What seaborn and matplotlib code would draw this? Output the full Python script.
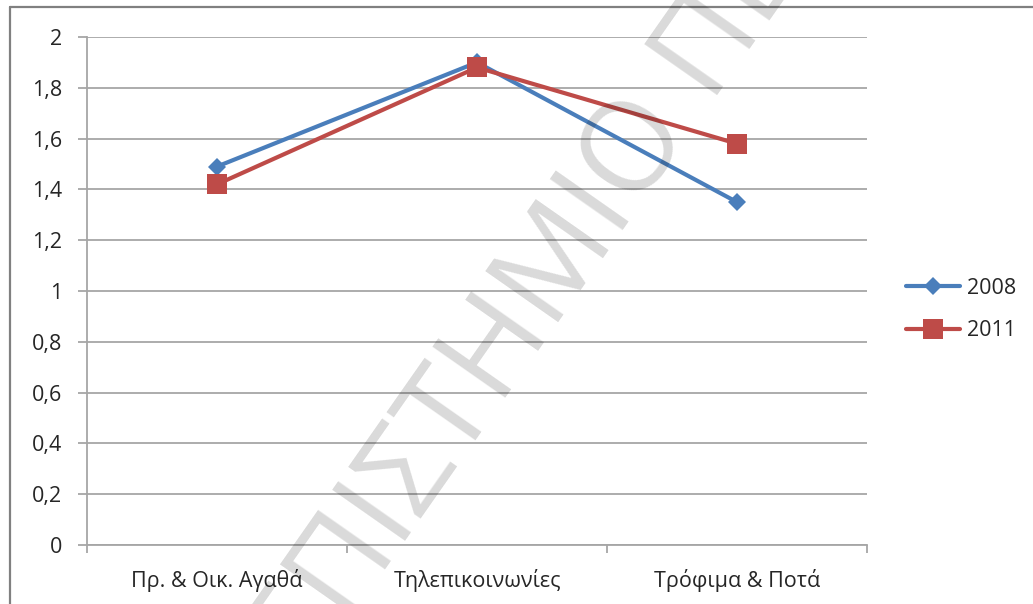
import matplotlib
matplotlib.use("Agg")
import matplotlib.pyplot as plt
import seaborn as sns
import numpy as np
import pandas as pd
from matplotlib.lines import Line2D

# Data
categories = ["Πρ. & Οικ. Αγαθά", "Τηλεπικοινωνίες", "Τρόφιμα & Ποτά"]
series_labels = ["2008", "2011"]
values_2008 = [1.49, 1.90, 1.35]
values_2011 = [1.42, 1.88, 1.58]
y_ticks = [0, 0.2, 0.4, 0.6, 0.8, 1.0, 1.2, 1.4, 1.6, 1.8, 2.0]
watermark = "ΠΑΝΕΠΙΣΤΗΜΙΟ ΠΕΙΡΑΙΩΣ"

sns.set_theme(style="white")
plt.rcParams["font.family"] = ["Open Sans", "DejaVu Sans"]

W, H = 1033, 604
fig = plt.figure(figsize=(W / 100, H / 100), dpi=100)
fig.patch.set_facecolor("white")
ax = fig.add_axes([87 / W, 1 - 545 / H, 780 / W, 508 / H])

df = pd.DataFrame({
    "pos": np.tile(np.arange(len(categories)), len(series_labels)),
    "value": values_2008 + values_2011,
    "year": np.repeat(series_labels, len(categories)),
})

colors = {"2008": "#4A7EBB", "2011": "#BE4B48"}
markers = {"2008": "D", "2011": "s"}
msizes = {"2008": 9.5, "2011": 14}

for year in series_labels:
    sub = df[df["year"] == year]
    sns.lineplot(data=sub, x="pos", y="value", ax=ax, color=colors[year],
                 marker=markers[year], markersize=msizes[year],
                 markeredgewidth=0, markeredgecolor=colors[year],
                 linewidth=3, label=year, zorder=3, clip_on=False)

# Axes styling
grid_c = "#A6A6A6"
text_c = "#262626"
ax.set_xlim(-0.5, len(categories) - 0.5)
ax.set_ylim(0, 2)
ax.set_yticks(y_ticks)
ax.set_yticklabels([f"{v:g}".replace(".", ",") for v in y_ticks])
ax.set_xticks(np.arange(len(categories)))
ax.set_xticklabels(categories)
ax.set_xticks(np.arange(-0.5, len(categories)), minor=True)
ax.set_xlabel("")
ax.set_ylabel("")

ax.yaxis.grid(True, color=grid_c, linewidth=1.3)
ax.xaxis.grid(False)
ax.set_axisbelow(True)
for s in ["top", "right"]:
    ax.spines[s].set_visible(False)
for s in ["left", "bottom"]:
    ax.spines[s].set_color(grid_c)
    ax.spines[s].set_linewidth(1.3)

ax.tick_params(axis="y", direction="out", length=6.5, width=1.3, color=grid_c,
               pad=11.5, labelsize=15.5, labelcolor=text_c, left=True)
ax.tick_params(axis="x", which="major", length=0, pad=17,
               labelsize=15.5, labelcolor=text_c)
ax.tick_params(axis="x", which="minor", direction="out", length=6,
               width=1.3, color=grid_c, bottom=True)

# Legend on the right
handles, labels = ax.get_legend_handles_labels()
ax.get_legend().remove()
fig.legend(handles, labels, loc="center left",
           bbox_to_anchor=(906 / W, 1 - 309.5 / H), bbox_transform=fig.transFigure,
           frameon=False, fontsize=15.5, handlelength=2.5, handletextpad=0.35,
           labelspacing=1.0, borderpad=0, borderaxespad=0, labelcolor=text_c)

# Outer frame
frame_c = "#808080"
fig.add_artist(Line2D([10 / W, 1.0], [1 - 7 / H, 1 - 7 / H], transform=fig.transFigure,
                      color=frame_c, linewidth=1.6))
fig.add_artist(Line2D([10 / W, 10 / W], [0, 1 - 7 / H], transform=fig.transFigure,
                      color=frame_c, linewidth=1.6))

# Diagonal watermark, anchored on the centre of its "Ο"
renderer = fig.canvas.get_renderer()
wm_size = 90
wm_kw = dict(fontsize=wm_size, family=["Open Sans", "DejaVu Sans"], color="black", alpha=0.15)
k = watermark.index("Ο")
t_pre = fig.text(0, 0, watermark[:k], **wm_kw)
w_pre = t_pre.get_window_extent(renderer).width
t_pre.remove()
t_o = fig.text(0, 0, watermark[k], **wm_kw)
w_o = t_o.get_window_extent(renderer).width
t_o.remove()

angle = 55
theta = np.deg2rad(angle)
d = np.array([np.cos(theta), np.sin(theta)])
u = np.array([-np.sin(theta), np.cos(theta)])
cap = 0.714 * wm_size * 100 / 72
center = np.array([628.0, H - 146.0])
base = center - u * cap / 2
start = base - d * (w_pre + w_o / 2)
fig.text(start[0] / W, start[1] / H, watermark, rotation=angle, rotation_mode="anchor",
         ha="left", va="baseline", zorder=20, **wm_kw)

fig.savefig("out.png", dpi=100, facecolor="white")
